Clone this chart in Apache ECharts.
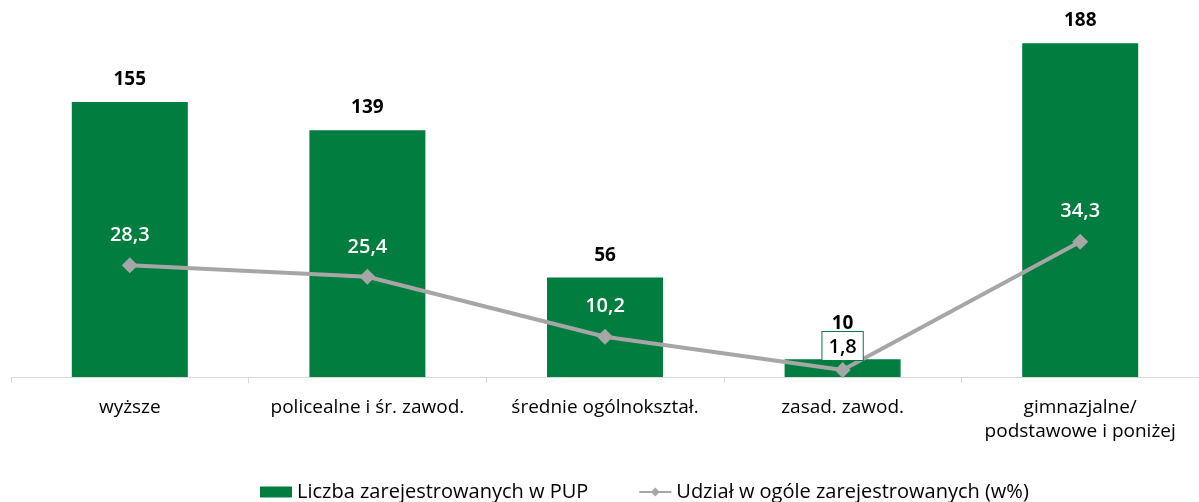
<!DOCTYPE html>
<html><head><meta charset="utf-8">
<script src="https://cdn.jsdelivr.net/npm/echarts@6/dist/echarts.min.js"></script>
<style>html,body{margin:0;padding:0;background:#fff}#c{width:1199px;height:502px}</style>
</head><body><div id="c"></div>
<script>
const categories = ['wyższe', 'policealne i śr. zawod.', 'średnie ogólnokształ.', 'zasad. zawod.', 'gimnazjalne/\npodstawowe i poniżej'];
const counts = [155, 139, 56, 10, 188];
const shares = [28.3, 25.4, 10.2, 1.8, 34.3];
const seriesNames = ['Liczba zarejestrowanych w PUP', 'Udział w ogóle zarejestrowanych (w%)'];

const FONT = 'Open Sans';
const fmt = v => String(v).replace('.', ',');
const chart = echarts.init(document.getElementById('c'), null, {renderer: 'canvas'});
chart.setOption({
  animation: false,
  textStyle: {fontFamily: FONT},
  grid: {left: 11, width: 1190, top: 22, height: 355, containLabel: false},
  legend: {
    top: 477, left: 255, itemGap: 50, itemWidth: 32, itemHeight: 11,
    textStyle: {fontSize: 20, color: '#000', fontFamily: FONT},
    data: [{name: seriesNames[0], icon: 'rect'}, {name: seriesNames[1]}]
  },
  xAxis: {
    type: 'category', data: categories, boundaryGap: true,
    axisLine: {lineStyle: {color: '#d9d9d9', width: 1}},
    axisTick: {show: true, length: 6, interval: 0, lineStyle: {color: '#d9d9d9'}},
    axisLabel: {interval: 0, fontSize: 19, color: '#000', margin: 19, lineHeight: 24, fontFamily: FONT}
  },
  yAxis: [
    {type: 'value', min: 0, max: 200, show: false, splitLine: {show: false}},
    {type: 'value', min: 0, max: 90, show: false, splitLine: {show: false}}
  ],
  series: [
    {
      name: seriesNames[0], type: 'bar', barWidth: 116,
      data: counts.map((v, i) => i === 3 ? {value: v, label: {distance: 26}} : v),
      itemStyle: {color: '#027D40'},
      label: {show: true, position: 'top', distance: 13, fontSize: 19, fontWeight: 'bold', color: '#000', fontFamily: FONT}
    },
    {
      name: seriesNames[1], type: 'line', yAxisIndex: 1, data: shares.map((v, i) => {
        if (i === 3) return {value: v, label: {color: '#000', backgroundColor: '#fff', borderColor: '#027D40', borderWidth: 1, padding: [5, 6, 3, 6], distance: 2}};
        return v;
      }),
      symbol: 'diamond', symbolSize: 16,
      lineStyle: {color: '#A6A6A6', width: 4},
      itemStyle: {color: '#A6A6A6'},
      label: {show: true, position: 'top', distance: 12, fontSize: 20, fontWeight: 600, color: '#fff', fontFamily: FONT, formatter: p => fmt(p.value)}
    }
  ]
});
</script></body></html>
